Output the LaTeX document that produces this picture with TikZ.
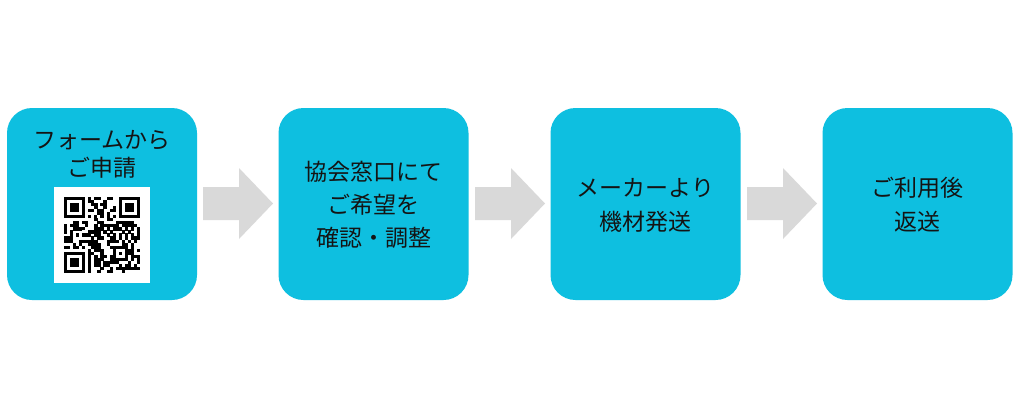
\documentclass[tikz,border=0pt]{standalone}
\usepackage{fontspec}
\setmainfont{Noto Sans CJK JP}
\definecolor{boxcyan}{RGB}{14,191,224}
\definecolor{arrowgray}{RGB}{217,217,217}
\definecolor{txt}{RGB}{20,20,20}
\begin{document}
\begin{tikzpicture}[x=1pt,y=-1pt,
  stepbox/.style={fill=boxcyan, draw=none, rounded corners=25pt, minimum width=190pt, minimum height=192pt, inner sep=0pt},
  label/.style={text=txt, align=center, font=\fontsize{23}{33}\selectfont, inner sep=0pt},
  blockarrow/.style={fill=arrowgray, draw=none}]
\fill[white] (0,0) rectangle (1024,408);
\useasboundingbox (0,0) rectangle (1024,408);
% boxes
\node[stepbox] (b1) at (102,204) {};
\node[stepbox] (b2) at (373.5,204) {};
\node[stepbox] (b3) at (645.5,204) {};
\node[stepbox] (b4) at (917.5,204) {};
% texts
\node[label, font=\fontsize{23}{28}\selectfont] (t1) at (102,154) {フォームから\\ご申請};
\node[label] (t2) at (373.5,205) {協会窓口にて\\ご希望を\\確認・調整};
\node[label, font=\fontsize{23}{34}\selectfont] (t3) at (645.5,205) {メーカーより\\機材発送};
\node[label, font=\fontsize{23}{34}\selectfont] (t4) at (917.5,205) {ご利用後\\返送};
% arrows
\foreach \dx in {0,272,544}{
  \fill[blockarrow] (203+\dx,187) -- (239+\dx,187) -- (239+\dx,168) -- (273+\dx,203.5) -- (239+\dx,239) -- (239+\dx,220) -- (203+\dx,220) -- cycle;
}
% QR code
\node[fill=white, minimum width=96pt, minimum height=96pt, inner sep=0pt] (qr) at (102,235) {};
\begin{scope}[shift={(64,197)}, x=3.04pt, y=-3.04pt]
  \pgfmathsetseed{12}
  \foreach \i in {0,...,24}{
    \foreach \j in {0,...,24}{
      \pgfmathtruncatemacro\res{((\i<8) && (\j<8)) || ((\i>16) && (\j<8)) || ((\i<8) && (\j>16)) || ((\i>15) && (\i<21) && (\j>15) && (\j<21)) || (\i==6) || (\j==6)}
      \pgfmathtruncatemacro\on{rnd<0.5}
      \ifnum\res=0 \ifnum\on=1
        \fill[black] (\j-0.02,\i-0.02) rectangle (\j+1.02,\i+1.02);
      \fi\fi
    }
  }
  \foreach \cx/\cy in {0/0,18/0,0/18}{
    \fill[black] (\cx,\cy) rectangle (\cx+7,\cy+7);
    \fill[white] (\cx+1,\cy+1) rectangle (\cx+6,\cy+6);
    \fill[black] (\cx+2,\cy+2) rectangle (\cx+5,\cy+5);
  }
  \foreach \k in {8,10,...,16}{
    \fill[black] (\k,6) rectangle (\k+1,7);
    \fill[black] (6,\k) rectangle (7,\k+1);
  }
  \fill[black] (16,16) rectangle (21,21);
  \fill[white] (17,17) rectangle (20,20);
  \fill[black] (18,18) rectangle (19,19);
\end{scope}
\end{tikzpicture}
\end{document}
